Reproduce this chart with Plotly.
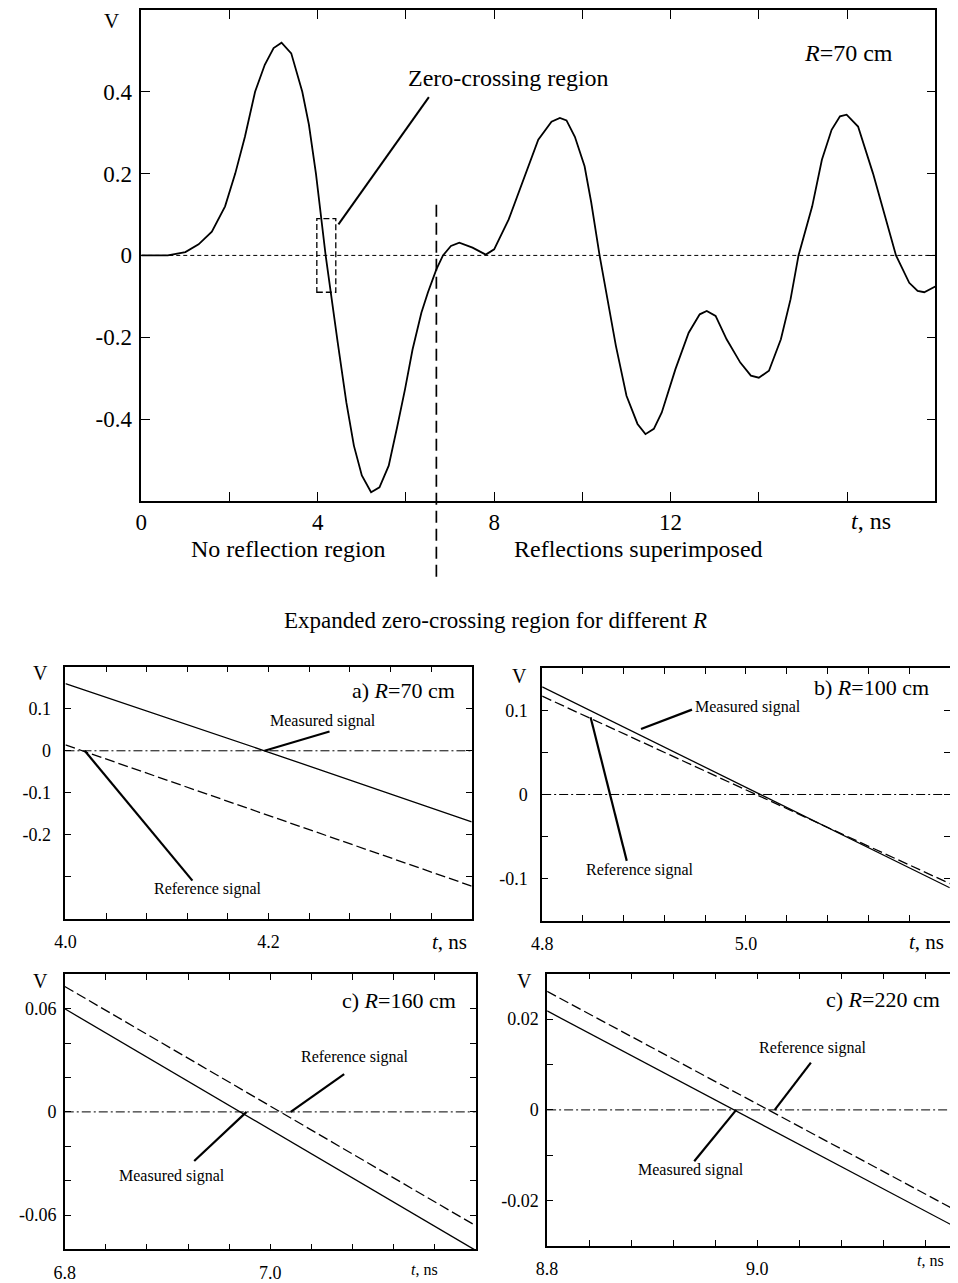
import plotly.graph_objects as go

# ---------------- data ----------------
# main waveform (R = 70 cm)
t_main = [0, 0.6, 1.0, 1.3, 1.6, 1.9, 2.13, 2.35, 2.58, 2.8, 3.0, 3.18, 3.4, 3.65, 3.8,
          3.96, 4.18, 4.33, 4.45, 4.65, 4.82, 5.0, 5.21, 5.4, 5.61, 5.8, 5.98, 6.15, 6.35,
          6.5, 6.69, 6.84, 7.02, 7.21, 7.51, 7.81, 8.0, 8.33, 8.63, 9.0, 9.3, 9.49, 9.64,
          9.83, 10.05, 10.2, 10.39, 10.57, 10.76, 11.0, 11.25, 11.43, 11.62, 11.8, 12.11,
          12.41, 12.66, 12.82, 13.02, 13.27, 13.58, 13.82, 14.0, 14.23, 14.5, 14.72, 14.9,
          15.21, 15.43, 15.65, 15.84, 15.99, 16.25, 16.59, 16.89, 17.11, 17.41, 17.6, 17.75, 18.0]
v_main = [0, 0, 0.008, 0.027, 0.058, 0.12, 0.2, 0.29, 0.4, 0.466, 0.507, 0.52, 0.494, 0.4, 0.32,
          0.2, 0.0, -0.12, -0.21, -0.36, -0.465, -0.538, -0.579, -0.567, -0.514, -0.42, -0.327, -0.23, -0.14,
          -0.09, -0.034, 0.0, 0.023, 0.031, 0.019, 0.002, 0.015, 0.088, 0.177, 0.283, 0.327, 0.336, 0.33,
          0.29, 0.218, 0.13, 0.0, -0.107, -0.221, -0.343, -0.412, -0.437, -0.424, -0.384, -0.278,
          -0.189, -0.144, -0.136, -0.148, -0.205, -0.262, -0.294, -0.299, -0.282, -0.205, -0.107, 0.0,
          0.12, 0.234, 0.307, 0.34, 0.344, 0.315, 0.2, 0.088, 0.0, -0.067, -0.087, -0.09, -0.076]
t_split = 6.69            # boundary between the two regions
zc_box_t = [3.98, 4.41]   # zero-crossing window
zc_box_v = [-0.09, 0.09]

# expanded zero-crossing panels: (t, measured, reference)
t_a = [4.0, 4.196, 4.4]
meas_a = [0.160, 0.0, -0.169]
ref_a = [0.014, -0.151, -0.322]

t_b = [4.8, 5.015, 5.2]
meas_b = [0.128, 0.0, -0.111]
ref_b = [0.117, -0.003, -0.106]

t_c = [6.8, 6.975, 7.2]
meas_c = [0.060, -0.0015, -0.0806]
ref_c = [0.073, 0.0121, -0.0662]

t_d = [8.8, 8.986, 9.2]
meas_d = [0.0218, -0.001, -0.0272]
ref_d = [0.0261, 0.003, -0.0235]

# tick definitions
main_xt = [0, 2, 4, 6, 8, 10, 12, 14, 16, 18]
main_xl = ['0', '', '4', '', '8', '', '12', '', '', '']
main_yt = [-0.4, -0.2, 0, 0.2, 0.4]
main_yl = ['-0.4', '-0.2', '0', '0.2', '0.4']

a_xt = [4.0, 4.04, 4.08, 4.12, 4.16, 4.2, 4.24, 4.28, 4.32, 4.36, 4.4]
a_xl = ['4.0', '', '', '', '', '4.2', '', '', '', '', '']
a_yt = [-0.4, -0.3, -0.2, -0.1, 0, 0.1, 0.2]
a_yl = ['', '', '-0.2', '-0.1', '0', '0.1', '']

b_xt = [4.8, 4.84, 4.88, 4.92, 4.96, 5.0, 5.04, 5.08, 5.12, 5.16, 5.2]
b_xl = ['4.8', '', '', '', '', '5.0', '', '', '', '', '']
b_yt = [-0.15, -0.1, -0.05, 0, 0.05, 0.1, 0.15]
b_yl = ['', '-0.1', '', '0', '', '0.1', '']

c_xt = [6.8, 6.84, 6.88, 6.92, 6.96, 7.0, 7.04, 7.08, 7.12, 7.16, 7.2]
c_xl = ['6.8', '', '', '', '', '7.0', '', '', '', '', '']
c_yt = [-0.08, -0.06, -0.04, -0.02, 0, 0.02, 0.04, 0.06, 0.08]
c_yl = ['', '-0.06', '', '', '0', '', '', '0.06', '']

d_xt = [8.8, 8.84, 8.88, 8.92, 8.96, 9.0, 9.04, 9.08, 9.12, 9.16, 9.2]
d_xl = ['8.8', '', '', '', '', '9.0', '', '', '', '', '']
d_yt = [-0.03, -0.02, -0.01, 0, 0.01, 0.02, 0.03]
d_yl = ['', '-0.02', '', '0', '', '0.02', '']

# ---------------- figure ----------------
FONT = 'Liberation Serif, Times New Roman, serif'
OFF = 8                     # page body margin
W, H = 958 - OFF, 1283 - OFF

def px(x):
    return (x - OFF) / W

def py(y):
    return 1 - (y - OFF) / H

fig = go.Figure()

def line_trace(x, y, xa, ya, dash='solid', width=1.3):
    fig.add_trace(go.Scatter(x=x, y=y, mode='lines', xaxis=xa, yaxis=ya,
                             line=dict(color='black', width=width, dash=dash),
                             showlegend=False, hoverinfo='skip'))

# main
line_trace(t_main, v_main, 'x', 'y', width=1.8)
# panels
line_trace(t_a, meas_a, 'x2', 'y2')
line_trace(t_a, ref_a, 'x2', 'y2', dash='10px,4px')
line_trace(t_b, meas_b, 'x3', 'y3')
line_trace(t_b, ref_b, 'x3', 'y3', dash='10px,4px')
line_trace(t_c, meas_c, 'x4', 'y4')
line_trace(t_c, ref_c, 'x4', 'y4', dash='10px,4px')
line_trace(t_d, meas_d, 'x5', 'y5')
line_trace(t_d, ref_d, 'x5', 'y5', dash='10px,4px')


def ax(domain, rng, tv, tl, anchor, size, mirror='ticks', standoff=6, ticklen=6, lw=1.5):
    return dict(domain=domain, range=rng, tickmode='array', tickvals=tv, ticktext=tl,
                ticks='inside', ticklen=ticklen, tickwidth=1.2, tickcolor='black',
                showline=True, linecolor='black', linewidth=lw, mirror=mirror,
                showgrid=False, zeroline=False, anchor=anchor, ticklabelstandoff=standoff,
                tickfont=dict(family=FONT, size=size, color='black'))

layout = dict(width=W, height=H, margin=dict(l=0, r=0, t=0, b=0),
              paper_bgcolor='white', plot_bgcolor='white', showlegend=False)

layout['xaxis'] = ax([px(131.7), px(935)], [0, 18], main_xt, main_xl, 'y', 23, standoff=0, ticklen=9, lw=2)
layout['yaxis'] = ax([py(502), py(10)], [-0.6, 0.6], main_yt, main_yl, 'x', 23, standoff=3, ticklen=9, lw=1.5)
layout['xaxis2'] = ax([px(55), px(466)], [4.0, 4.4], a_xt, a_xl, 'y2', 18)
layout['yaxis2'] = ax([py(921), py(668.3)], [-0.4, 0.2], a_yt, a_yl, 'x2', 18, standoff=9)
layout['xaxis3'] = ax([px(537.3), px(949.7)], [4.8, 5.2], b_xt, b_xl, 'y3', 18)
layout['yaxis3'] = ax([py(922.7), py(670)], [-0.15, 0.15], b_yt, b_yl, 'x3', 18, standoff=9)
layout['xaxis4'] = ax([px(54.3), px(470)], [6.8, 7.2], c_xt, c_xl, 'y4', 18)
layout['yaxis4'] = ax([py(1252.3), py(976.7)], [-0.08, 0.08], c_yt, c_yl, 'x4', 18, standoff=3)
layout['xaxis5'] = ax([px(542.3), 1.0], [8.8, 9.191], d_xt, d_xl, 'y5', 18)
layout['yaxis5'] = ax([py(1249), py(976)], [-0.03, 0.03], d_yt, d_yl, 'x5', 18, mirror=False, standoff=3)
fig.update_layout(**layout)

shapes = []
# zero reference lines
shapes.append(dict(type='line', xref='x domain', yref='y', x0=0, x1=1, y0=0, y1=0,
                   line=dict(color='black', width=1, dash='4px,3px')))
for k in ['2', '3', '4', '5']:
    shapes.append(dict(type='line', xref='x%s domain' % k, yref='y' + k, x0=0, x1=1, y0=0, y1=0,
                       line=dict(color='black', width=1, dash='9px,3px,2px,3px')))
# zero-crossing window
shapes.append(dict(type='rect', xref='x', yref='y', x0=zc_box_t[0], x1=zc_box_t[1],
                   y0=zc_box_v[0], y1=zc_box_v[1], line=dict(color='black', width=1.3, dash='6px,3px')))
# region boundary
shapes.append(dict(type='line', xref='x', yref='paper', x0=t_split, x1=t_split, y0=py(578), y1=py(200),
                   line=dict(color='black', width=1.7, dash='12px,6px')))
# pointer for zero-crossing label
shapes.append(dict(type='line', xref='x', yref='y', x0=4.47, y0=0.076, x1=6.52, y1=0.387,
                   line=dict(color='black', width=2)))
# panel pointers
ptr = [('2', 4.196, 0.0, 4.26, 0.046), ('2', 4.019, 0.0, 4.125, -0.309),
       ('3', 4.897, 0.078, 4.947, 0.101), ('3', 4.8475, 0.092, 4.883, -0.079),
       ('4', 7.02, 0.0, 7.072, 0.022), ('4', 6.977, 0.0, 6.926, -0.0286),
       ('5', 9.0166, 0.0, 9.051, 0.0104), ('5', 8.98, 0.0, 8.94, -0.0113)]
for k, x0, y0, x1, y1 in ptr:
    shapes.append(dict(type='line', xref='x' + k, yref='y' + k, x0=x0, y0=y0, x1=x1, y1=y1,
                       line=dict(color='black', width=2.2)))
fig.update_layout(shapes=shapes)

ann = []
def A(text, x, y, xref, yref, size, xanchor='center', yanchor='middle'):
    ann.append(dict(text=text, x=x, y=y, xref=xref, yref=yref, showarrow=False,
                    xanchor=xanchor, yanchor=yanchor,
                    font=dict(family=FONT, size=size, color='black')))

# main annotations
A('V', px(101.7), py(21), 'paper', 'paper', 21)
A('Zero-crossing region', 6.0, 0.434, 'x', 'y', 24, xanchor='left')
A('<i>R</i>=70 cm', 16.03, 0.494, 'x', 'y', 24)
A('<i>t</i>, ns', 16.55, py(522), 'x', 'paper', 24)
A('No reflection region', 3.34, py(550), 'x', 'paper', 24)
A('Reflections superimposed', 11.28, py(550), 'x', 'paper', 24)
A('Expanded zero-crossing region for different <i>R</i>', px(490), py(622), 'paper', 'paper', 23)

# panel a
A('V', px(30), py(675), 'paper', 'paper', 20)
A('a) <i>R</i>=70 cm', 4.386, 0.144, 'x2', 'y2', 22, xanchor='right')
A('Measured signal', 4.254, 0.071, 'x2', 'y2', 16)
A('Reference signal', 4.14, -0.329, 'x2', 'y2', 16)
A('<i>t</i>, ns', 4.378, py(944), 'x2', 'paper', 21)
# panel b
A('V', px(514.7), py(678), 'paper', 'paper', 20)
A('b) <i>R</i>=100 cm', 5.182, 0.127, 'x3', 'y3', 22, xanchor='right')
A('Measured signal', 5.0015, 0.104, 'x3', 'y3', 16)
A('Reference signal', 4.8964, -0.09, 'x3', 'y3', 16)
A('<i>t</i>, ns', 5.177, py(944), 'x3', 'paper', 21)
# panel c
A('V', px(30), py(983), 'paper', 'paper', 20)
A('c) <i>R</i>=160 cm', 7.183, 0.065, 'x4', 'y4', 22, xanchor='right')
A('Reference signal', 7.083, 0.032, 'x4', 'y4', 16)
A('Measured signal', 6.904, -0.0374, 'x4', 'y4', 16)
A('<i>t</i>, ns', 7.15, py(1272), 'x4', 'paper', 16)
# panel d
A('V', px(519.7), py(983), 'paper', 'paper', 20)
A('c) <i>R</i>=220 cm', 9.176, 0.0244, 'x5', 'y5', 22, xanchor='right')
A('Reference signal', 9.053, 0.0137, 'x5', 'y5', 16)
A('Measured signal', 8.937, -0.0132, 'x5', 'y5', 16)
A('<i>t</i>, ns', 9.165, py(1263), 'x5', 'paper', 16)

fig.update_layout(annotations=ann)
fig.write_html('out.html')
